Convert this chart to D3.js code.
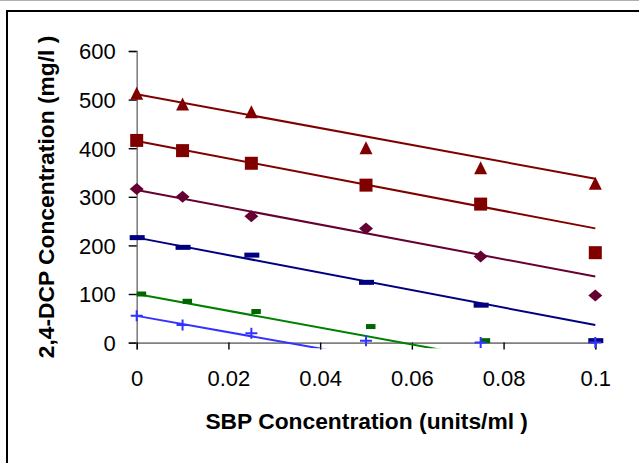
<!DOCTYPE html>
<html>
<head>
<meta charset="utf-8">
<script src="https://cdn.jsdelivr.net/npm/d3@7"></script>
<style>
  html, body { margin: 0; padding: 0; background: #fff; }
  svg { display: block; font-family: "Liberation Sans", Arial, sans-serif; }
</style>
</head>
<body>
<svg id="chart" width="639" height="463"></svg>
<script>
// SBP dose (units/ml) at which each 2,4-DCP run was sampled
const sbpDose = [0, 0.01, 0.025, 0.05, 0.075, 0.1];

// Measured 2,4-DCP remaining (mg/l) for each initial loading
const dcp500 = [512, 490, 474, 400, 359, 327];
const dcp400 = [416, 395, 369, 324, 285, 185];
const dcp300 = [316, 300, 260, 235, 177, 97];
const dcp200 = [216, 196, 180, 124, 77, 4];
const dcp100 = [100, 85, 64, 33, 4, null];
const dcp50  = [55, 36, 19, 4, 0, 0];

// Fitted lines: predicted value at SBP = 0 and SBP = 0.1
const fitAt0   = [511, 415, 314, 216, 100, 55];
const fitAt01  = [337, 235, 136, 36, -73, -113];

const yTicks = [0, 100, 200, 300, 400, 500, 600];
const xTicks = [0, 0.02, 0.04, 0.06, 0.08, 0.1];

const series = [
  { values: dcp500, marker: "triangle", color: "#800000", line: "#800000" },
  { values: dcp400, marker: "square",   color: "#800000", line: "#800000" },
  { values: dcp300, marker: "diamond",  color: "#660033", line: "#660033" },
  { values: dcp200, marker: "dash",     color: "#000080", line: "#000080" },
  { values: dcp100, marker: "shortdash",color: "#006600", line: "#008000" },
  { values: dcp50,  marker: "plus",     color: "#3333ff", line: "#3333ff" }
];

const svg = d3.select("#chart");

// page edge and chart frame
svg.append("line").attr("x1", 0).attr("x2", 639).attr("y1", 0.5).attr("y2", 0.5)
  .attr("stroke", "#b0b0b0").attr("stroke-width", 1);
svg.append("rect").attr("x", 7).attr("y", 11).attr("width", 700).attr("height", 600)
  .attr("fill", "none").attr("stroke", "#000").attr("stroke-width", 2);

const x = d3.scaleLinear().domain([0, 0.1]).range([136.7, 595.3]);
const y = d3.scaleLinear().domain([0, 600]).range([342.6, 51]);

// clip region for fitted lines (plot area runs a little below zero)
svg.append("clipPath").attr("id", "plotClip")
  .append("rect").attr("x", x(0)).attr("y", 40)
  .attr("width", x(0.1) - x(0) + 10).attr("height", 348.3 - 40);

// axes
const yAxis = svg.append("g").attr("transform", `translate(${x(0)},0)`)
  .call(d3.axisLeft(y).tickValues(yTicks).tickSize(8).tickPadding(13).tickFormat(d3.format("d")));
const xAxis = svg.append("g").attr("transform", `translate(0,${y(0)})`)
  .call(d3.axisBottom(x).tickValues(xTicks).tickSize(7).tickPadding(21)
    .tickFormat(d => d === 0 ? "0" : String(+d.toFixed(2))));

[yAxis, xAxis].forEach(g => {
  g.select(".domain").attr("stroke", "#808080").attr("stroke-width", 1.6);
  g.selectAll(".tick line").attr("stroke", "#000").attr("stroke-width", 1.4);
  g.selectAll(".tick text").attr("fill", "#000")
    .style("font-size", "22px").style("font-family", "'Liberation Sans', Arial, sans-serif");
});
yAxis.selectAll(".tick text").attr("dy", "0.36em");
xAxis.selectAll(".tick text").attr("dy", "0.71em");

// fitted lines
const lineLayer = svg.append("g").attr("clip-path", "url(#plotClip)");
series.forEach((s, i) => {
  lineLayer.append("line")
    .attr("x1", x(0)).attr("y1", y(fitAt0[i]))
    .attr("x2", x(0.1)).attr("y2", y(fitAt01[i]))
    .attr("stroke", s.line).attr("stroke-width", 2);
});

// markers
function drawMarker(g, type, cx, cy, color) {
  if (type === "triangle") {
    g.append("path").attr("d", `M${cx},${cy - 7}L${cx + 6.5},${cy + 6}L${cx - 6.5},${cy + 6}Z`).attr("fill", color);
  } else if (type === "square") {
    g.append("rect").attr("x", cx - 6.5).attr("y", cy - 6.5).attr("width", 13).attr("height", 13).attr("fill", color);
  } else if (type === "diamond") {
    g.append("path").attr("d", `M${cx},${cy - 6}L${cx + 7},${cy}L${cx},${cy + 6}L${cx - 7},${cy}Z`).attr("fill", color);
  } else if (type === "dash") {
    g.append("rect").attr("x", cx - 7).attr("y", cy - 2.5).attr("width", 15).attr("height", 5).attr("fill", color);
  } else if (type === "shortdash") {
    g.append("rect").attr("x", cx).attr("y", cy - 2.5).attr("width", 9.5).attr("height", 5).attr("fill", color);
  } else if (type === "plus") {
    g.append("path").attr("d", `M${cx - 6},${cy}H${cx + 6}M${cx},${cy - 5.5}V${cy + 5.5}`)
      .attr("stroke", color).attr("stroke-width", 2).attr("fill", "none");
  }
}
const markerLayer = svg.append("g");
series.forEach(s => {
  s.values.forEach((v, j) => {
    if (v !== null) drawMarker(markerLayer, s.marker, x(sbpDose[j]), y(v), s.color);
  });
});

// axis titles
svg.append("text").attr("x", 366.7).attr("y", 429).attr("text-anchor", "middle")
  .style("font-size", "22.8px").style("font-weight", "bold")
  .text("SBP Concentration (units/ml )");
svg.append("text").attr("transform", "translate(54,197) rotate(-90)").attr("text-anchor", "middle")
  .style("font-size", "22.8px").style("font-weight", "bold")
  .text("2,4-DCP Concentration (mg/l )");
</script>
</body>
</html>
